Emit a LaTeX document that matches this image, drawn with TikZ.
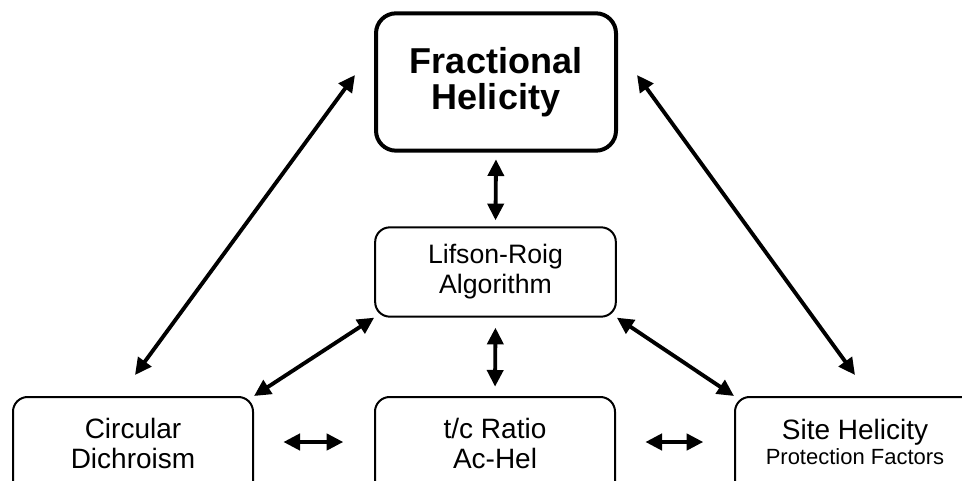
\documentclass[tikz,border=0pt]{standalone}
\usepackage{fontspec}
\setmainfont{Liberation Sans}
\usetikzlibrary{arrows.meta,calc}
\begin{document}
\begin{tikzpicture}[x=0.75pt,y=-0.75pt,
  box/.style={draw=black,line width=1.5pt,rounded corners=11pt,align=center,inner sep=0pt},
  lowbox/.style={draw=black,line width=1.5pt,rounded corners=11pt,inner sep=0pt,anchor=north,minimum width=180pt,minimum height=80pt},
  arr/.style={line width=2.9pt,{Triangle[length=12.5pt,width=12pt]}-{Triangle[length=12.5pt,width=12pt]}}]
\path[use as bounding box] (0,0) rectangle (962,481);
\clip (0,0) rectangle (962,481);
% boxes
\node[box,line width=3pt,rounded corners=15pt,minimum width=180pt,minimum height=103pt,
  font=\fontsize{27pt}{27pt}\selectfont\bfseries] (fh) at (496,82) {Fractional\\Helicity};
\node[box,minimum width=180.5pt,minimum height=67pt,
  font=\fontsize{20pt}{22.5pt}\selectfont] (lr) at (495.5,272) {Lifson-Roig\\Algorithm};
\node[lowbox,font=\fontsize{21pt}{22.5pt}\selectfont] (cd) at (133,396)
  {\begin{tabular}{@{}c@{}}Circular\\Dichroism\\[5pt]\end{tabular}};
\node[lowbox,font=\fontsize{21pt}{22.5pt}\selectfont] (tc) at (495,396)
  {\begin{tabular}{@{}c@{}}t/c Ratio\\Ac-Hel\\[5pt]\end{tabular}};
\node[lowbox,font=\fontsize{21pt}{19pt}\selectfont] (sh) at (855,396)
  {\begin{tabular}{@{}c@{}}Site Helicity\\{\fontsize{16.5pt}{18pt}\selectfont Protection Factors}\\[7pt]\end{tabular}};
% free ends of the long diagonals
\coordinate (fhl) at (355,75);
\coordinate (fhr) at (637,75);
\coordinate (cdt) at (135,375);
\coordinate (sht) at (855,375);
% connectors
\draw[arr] (fhl) -- (cdt);
\draw[arr] (fhr) -- (sht);
\draw[arr,shorten <=5pt,shorten >=4.5pt] (fh.south) -- (lr.north);
\draw[arr,shorten <=7.5pt,shorten >=7pt] (lr.south) -- (tc.north);
\draw[arr] (lr.south west) -- (cd.north east);
\draw[arr] (lr.south east) -- (sh.north west);
\draw[arr,line width=3.6pt,shorten <=22pt,shorten >=23pt] ($(cd.north east)+(0,46)$) -- ($(tc.north west)+(0,46)$);
\draw[arr,line width=3.6pt,shorten <=22pt,shorten >=23pt] ($(tc.north east)+(0,46)$) -- ($(sh.north west)+(0,46)$);
\end{tikzpicture}
\end{document}
